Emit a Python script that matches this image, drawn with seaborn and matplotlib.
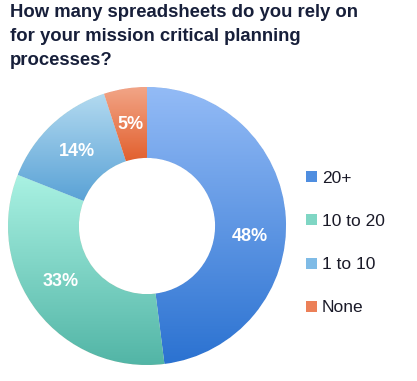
import numpy as np
import matplotlib
matplotlib.use('Agg')
import matplotlib.pyplot as plt
import seaborn as sns
from matplotlib.colors import LinearSegmentedColormap, to_rgb
from matplotlib.patches import Patch

# Data
categories = ['20+', '10 to 20', '1 to 10', 'None']
shares = [48, 33, 14, 5]
top_colors = ['#93bbf6', '#aaf2e3', '#b3daf0', '#f2a688']
bottom_colors = ['#2b72d1', '#52b5a6', '#5aa2d6', '#e2602e']
legend_colors = ['#4f8ee0', '#7fd6c4', '#7fbbe6', '#ec8058']

sns.set_theme(style='white')
plt.rcParams['font.family'] = ['Liberation Sans', 'DejaVu Sans']

fig = plt.figure(figsize=(4.17, 3.81), dpi=100)
r_px = 139
cx, cy = 147, 226
ax = fig.add_axes([(cx - r_px) / 417, (381 - cy - r_px) / 381, 2 * r_px / 417, 2 * r_px / 381])

wedges, _ = ax.pie(shares, startangle=90, counterclock=False, radius=1,
                   wedgeprops=dict(width=0.51, edgecolor='white', linewidth=0.6))

# vertical gradient fill per wedge, clipped to the wedge shape
for w, c_top, c_bot in zip(wedges, top_colors, bottom_colors):
    ext = w.get_path().get_extents()
    cmap = LinearSegmentedColormap.from_list('g', [to_rgb(c_bot), to_rgb(c_top)])
    grad = np.linspace(0, 1, 256).reshape(-1, 1)
    im = ax.imshow(grad, cmap=cmap, origin='lower', aspect='auto',
                   extent=[ext.x0, ext.x1, ext.y0, ext.y1], zorder=w.get_zorder() + 0.1)
    im.set_clip_path(w)

# percentage labels (the two big slices have their labels nudged clockwise)
nudge = [-9.5, -5, 0, 0]
angle = 90
for w, v, dn in zip(wedges, shares, nudge):
    mid = np.deg2rad(angle - v * 3.6 / 2 + dn)
    angle -= v * 3.6
    ax.text(0.74 * np.cos(mid), 0.74 * np.sin(mid), f'{v}%', ha='center', va='center',
            color='white', fontsize=13, fontweight='bold', zorder=10)

ax.set_xlim(-1, 1)
ax.set_ylim(-1, 1)
ax.axis('off')

fig.text(0.024, 0.99, 'How many spreadsheets do you rely on\nfor your mission critical planning\nprocesses?',
         ha='left', va='top', fontsize=13.3, fontweight='bold', color='#171f3a', linespacing=1.55)

handles = [Patch(facecolor=c, edgecolor='none') for c in legend_colors]
fig.legend(handles, categories, loc='center left', bbox_to_anchor=(0.697, 0.362),
           frameon=False, fontsize=12.5, labelspacing=1.62, handlelength=0.6, handleheight=0.6,
           handletextpad=0.3, labelcolor='#1a1a28')

fig.savefig('out.png', dpi=100, facecolor='white')
